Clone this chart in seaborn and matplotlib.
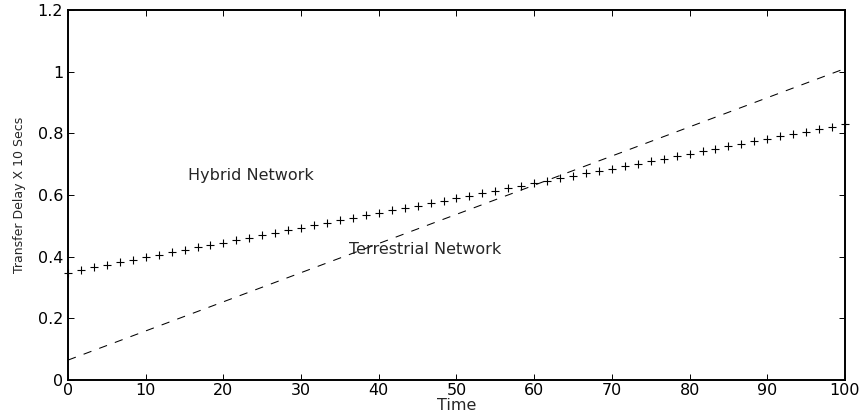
import matplotlib
matplotlib.use("Agg")
import matplotlib.pyplot as plt
import seaborn as sns

# hybrid network samples (plus markers)
hybrid_time = [0, 1.67, 3.33, 5, 6.67, 8.33, 10, 11.67, 13.33, 15, 16.67, 18.33,
               20, 21.67, 23.33, 25, 26.67, 28.33, 30, 31.67, 33.33, 35, 36.67, 38.33,
               40, 41.67, 43.33, 45, 46.67, 48.33, 50, 51.67, 53.33, 55, 56.67, 58.33,
               60, 61.67, 63.33, 65, 66.67, 68.33, 70, 71.67, 73.33, 75, 76.67, 78.33,
               80, 81.67, 83.33, 85, 86.67, 88.33, 90, 91.67, 93.33, 95, 96.67, 98.33, 100]
hybrid_delay = [0.348, 0.358, 0.366, 0.374, 0.382, 0.390, 0.398, 0.406, 0.414, 0.422,
                0.430, 0.438, 0.446, 0.454, 0.462, 0.470, 0.478, 0.486, 0.494, 0.502,
                0.510, 0.518, 0.526, 0.534, 0.542, 0.550, 0.558, 0.566, 0.574, 0.582,
                0.590, 0.598, 0.606, 0.614, 0.622, 0.630, 0.638, 0.646, 0.654, 0.662,
                0.670, 0.678, 0.686, 0.694, 0.702, 0.710, 0.718, 0.726, 0.734, 0.742,
                0.750, 0.758, 0.766, 0.774, 0.782, 0.790, 0.798, 0.806, 0.814, 0.822, 0.830]

# terrestrial network (dashed line)
terrestrial_time = [0, 100]
terrestrial_delay = [0.065, 1.01]

x_ticks = [0, 10, 20, 30, 40, 50, 60, 70, 80, 90, 100]
y_ticks = [0, 0.2, 0.4, 0.6, 0.8, 1.0, 1.2]
y_ticklabels = ["0", "0.2", "0.4", "0.6", "0.8", "1", "1.2"]

sns.set_style("ticks")
plt.rcParams["font.family"] = ["DejaVu Sans"]

fig, ax = plt.subplots(figsize=(8.64, 4.15), dpi=100)
fig.subplots_adjust(left=0.0787, right=0.978, bottom=0.084, top=0.976)

sns.lineplot(x=terrestrial_time, y=terrestrial_delay, color="k", linewidth=0.75,
             linestyle=(0, (8, 8)), ax=ax)
sns.scatterplot(x=hybrid_time, y=hybrid_delay, marker="+", color="k", s=30,
                linewidth=0.8, clip_on=False, ax=ax, zorder=3)

ax.set_xlim(0, 100)
ax.set_ylim(0, 1.2)
ax.set_xticks(x_ticks)
ax.set_yticks(y_ticks)
ax.set_yticklabels(y_ticklabels)

for s in ax.spines.values():
    s.set_visible(True)
    s.set_linewidth(1.4)
    s.set_color("k")
ax.tick_params(direction="in", length=4.5, width=0.7, top=True, right=True,
               labelsize=11.5, colors="k")
ax.tick_params(axis="x", pad=2)
ax.tick_params(axis="y", pad=3.5)

ax.set_xlabel("Time", fontsize=11.5)
ax.xaxis.label.set_va("center")
ax.xaxis.set_label_coords(0.5, -0.068)
ax.set_ylabel("Transfer Delay X 10 Secs", fontsize=9)
ax.yaxis.label.set_va("center")
ax.yaxis.set_label_coords(-0.062, 0.5)

ax.text(23.5, 0.662, "Hybrid Network", fontsize=11.5, ha="center", va="center")
ax.text(45.9, 0.422, "Terrestrial Network", fontsize=11.5, ha="center", va="center")

fig.savefig("out.png", dpi=100)
